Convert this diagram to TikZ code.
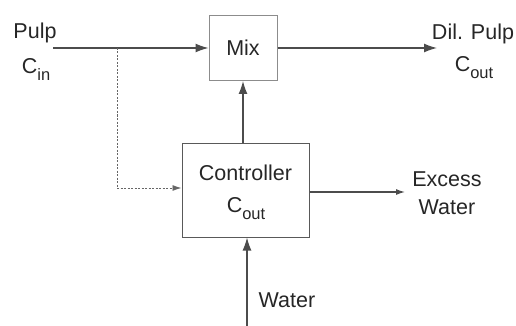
\documentclass[tikz,border=0pt]{standalone}
\usepackage{fontspec}
\setmainfont{Liberation Sans}
\usetikzlibrary{arrows.meta}
\newcommand{\subtxt}[1]{\raisebox{-7pt}{\fontsize{16.5}{18}\selectfont #1}}
\begin{document}
\begin{tikzpicture}[x=1pt,y=-1pt,
  txt/.style={font=\fontsize{21.5}{24}\selectfont, text=black!85, inner sep=0pt},
  blk/.style={draw=black!65, line width=1pt, inner sep=0pt},
  flow/.style={draw=black!70, line width=1.3pt, -{Latex[length=13pt,width=9pt]}},
  smallflow/.style={draw=black!70, line width=1.2pt, -{Latex[length=9pt,width=6pt]}},
  sig/.style={draw=black!60, line width=0.9pt, dash pattern=on 2pt off 1.5pt, -{Latex[length=9pt,width=6pt]}}]
\useasboundingbox (0,0) rectangle (516,326);
\node[blk, draw=black!45, minimum width=68pt, minimum height=65pt] (mix) at (243,48) {};
\node[txt] (mixt) at (243,48) {Mix};
\node[blk, minimum width=127pt, minimum height=94pt] (ctrl) at (245.5,190) {};
\node[txt] (ctrlt) at (245.5,173) {Controller};
\node[txt, anchor=base] (ctrlc) at (246,212) {C\subtxt{out}};
\node[txt] (pulp) at (35,33) {Pulp};
\node[txt, anchor=base] (cin) at (36,74) {C\subtxt{in}};
\node[txt] (dil) at (473,34) {Dil. Pulp};
\node[txt, anchor=base] (cout) at (474,72) {C\subtxt{out}};
\node[txt] (exc) at (447,179) {Excess};
\node[txt] (excw) at (447,207) {Water};
\node[txt] (wat) at (287,300) {Water};
\coordinate (pin) at (53,48);
\coordinate (br) at (117,48);
\coordinate (dcor) at (117,188);
\coordinate (pout) at (437,48);
\coordinate (eout) at (405,192);
\coordinate (win) at (247,326);
\draw[flow] (pin) -- (mix.west);
\draw[flow] (mix.east) -- (pout);
\draw[flow] (ctrl.north -| mix.south) -- (mix.south);
\draw[smallflow] (ctrl.east |- eout) -- (eout);
\draw[flow] (win) -- (win |- ctrl.south);
\draw[sig] (br) -- (dcor) -- (dcor -| ctrl.west);
\end{tikzpicture}
\end{document}
